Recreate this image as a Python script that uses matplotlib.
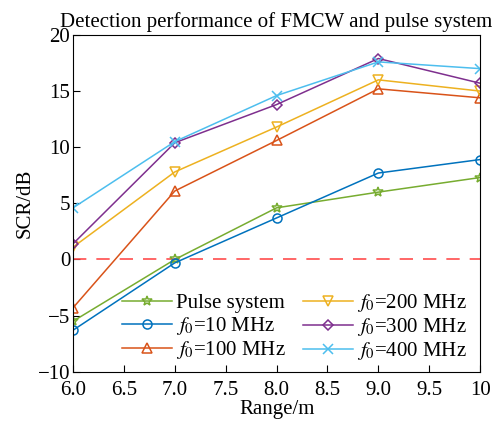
import matplotlib
matplotlib.use("Agg")
import matplotlib.pyplot as plt

plt.rcParams["font.family"] = ["Liberation Serif", "DejaVu Serif"]
plt.rcParams["mathtext.fontset"] = "stix"

ranges = [6.0, 7.0, 8.0, 9.0, 10.0]
pulse = [-5.5, 0.0, 4.6, 6.0, 7.3]
f10 = [-6.3, -0.3, 3.7, 7.7, 8.9]
f100 = [-4.3, 6.1, 10.6, 15.2, 14.4]
f200 = [1.1, 7.8, 11.8, 16.0, 15.0]
f300 = [1.4, 10.4, 13.8, 17.9, 15.7]
f400 = [4.6, 10.5, 14.6, 17.6, 17.0]

series = [
    ("Pulse system", pulse, "#77AC30", "*"),
    ("$f_0$=10 MHz", f10, "#0072BD", "o"),
    ("$f_0$=100 MHz", f100, "#D95319", "^"),
    ("$f_0$=200 MHz", f200, "#EDB120", "v"),
    ("$f_0$=300 MHz", f300, "#7E2F8E", "D"),
    ("$f_0$=400 MHz", f400, "#4DBEEE", "x"),
]

fig = plt.figure(figsize=(4.97, 4.21), dpi=100)
ax = fig.add_axes([0.147, 0.117, 0.819, 0.8])

ax.axhline(0, color="#FF4D4D", linewidth=1.2, linestyle=(0, (8, 6)))

for label, values, color, marker in series:
    ms = 7 if marker == "*" else 6.5
    if marker == "D":
        ms = 5.5
    ax.plot(ranges, values, color=color, marker=marker, markersize=ms,
            markerfacecolor="none", markeredgewidth=1.1, linewidth=1.1, label=label)

ax.set_xlim(6, 10)
ax.set_ylim(-10, 20)
ax.set_xticks([6.0, 6.5, 7.0, 7.5, 8.0, 8.5, 9.0, 9.5, 10])
ax.set_xticklabels(["6.0", "6.5", "7.0", "7.5", "8.0", "8.5", "9.0", "9.5", "10"])
ax.set_yticks([-10, -5, 0, 5, 10, 15, 20])
ax.set_yticklabels(["\u221210", "\u22125", "0", "5", "10", "15", "20"])
ax.tick_params(direction="in", length=5, labelsize=15)
ax.tick_params(axis="x", pad=7)
ax.tick_params(axis="y", pad=2)

ax.set_xlabel("Range/m", fontsize=15, labelpad=0)
ax.set_ylabel("SCR/dB", fontsize=15, labelpad=2)
ax.set_title("Detection performance of FMCW and pulse system", fontsize=15, pad=6)

ax.legend(ncol=2, frameon=False, fontsize=15, loc="upper left",
          bbox_to_anchor=(0.1, 0.262), handlelength=2.4, handletextpad=0.2,
          columnspacing=0.8, labelspacing=0.1, borderaxespad=0)

fig.savefig("out.png", dpi=100)
